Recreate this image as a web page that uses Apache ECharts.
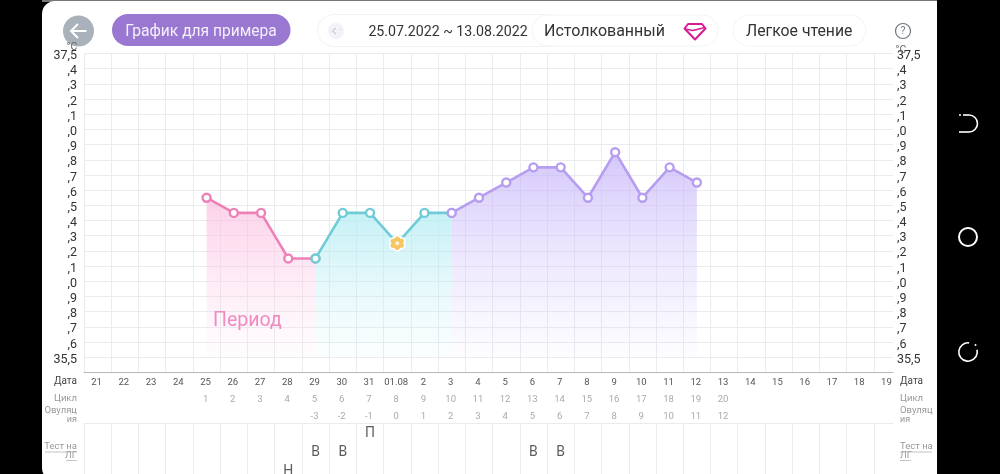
<!DOCTYPE html>
<html><head><meta charset="utf-8">
<style>html,body{margin:0;padding:0;background:#000;overflow:hidden}#c{width:1000px;height:474px}</style>
<script src="https://cdn.jsdelivr.net/npm/echarts@6/dist/echarts.min.js"></script>
</head><body><div id="c"></div>
<script>
const dates = ['21','22','23','24','25','26','27','28','29','30','31','01.08','2','3','4','5','6','7','8','9','10','11','12','13','14','15','16','17','18','19'];
const cycleDays = ['','','','','1','2','3','4','5','6','7','8','9','10','11','12','13','14','15','16','17','18','19','20','','','','','',''];
const ovulationDays = ['','','','','','','','','-3','-2','-1','0','1','2','3','4','5','6','7','8','9','10','11','12','','','','','',''];
const temps = [null,null,null,null,36.55,36.45,36.45,36.15,36.15,36.45,36.45,36.25,36.45,36.45,36.55,36.65,36.75,36.75,36.55,36.85,36.55,36.75,36.65,null,null,null,null,null,null,null];
const lhTests = ['','','','','','','','Н','В','В','П','','','','','','В','В','','','','','','','','','','','',''];
const lhLevels = ['Н','В','П'];
const phaseNames = ['period','follicular','luteal'];
const phaseFirst = [4,8,13];
const phaseLast = [8,13,22];
const ovulationIndex = 11;

const lineColors = ['#ee80b8','#6fcbd5','#b79df0'];
const areaTop = ['rgba(252,190,224,0.72)','rgba(176,236,242,0.72)','rgba(196,178,250,0.72)'];
const areaEnd = ['rgba(252,215,235,0.06)','rgba(200,240,245,0.06)','rgba(220,210,252,0.06)'];
const F = 'Roboto, sans-serif';
const gridC = '#e9ebef';
const flower = 'path://M20 12 A4.2 4.2 0 0 1 16 18.93 A4.2 4.2 0 0 1 8 18.93 A4.2 4.2 0 0 1 4 12 A4.2 4.2 0 0 1 8 5.07 A4.2 4.2 0 0 1 16 5.07 A4.2 4.2 0 0 1 20 12Z';

function pts(a,b){const r=[];for(let i=a;i<=b;i++)r.push({value:[i+0.5,temps[i]]});return r;}
const lineSeries = phaseNames.map((n,k)=>{
  const d = pts(phaseFirst[k],phaseLast[k]);
  d.forEach((p,j)=>{ if(phaseFirst[k]+j===ovulationIndex){
    p.symbol=flower;
    p.symbolSize=15;
    p.itemStyle={color:'#f5c662',borderColor:'#fff',borderWidth:1.5,opacity:1};
  }});
  return {name:n,type:'line',xAxisIndex:0,yAxisIndex:0,data:d,z:3+k,symbol:'circle',symbolSize:8,showAllSymbol:true,
    lineStyle:{color:lineColors[k],width:2.6},
    itemStyle:{color:'#fff',borderColor:lineColors[k],borderWidth:2.4,opacity:1},
    areaStyle:{origin:35.5,opacity:1,color:{type:'linear',x:0,y:0,x2:0,y2:1,colorStops:[{offset:0,color:areaTop[k]},{offset:1,color:areaEnd[k]}]}},
    animation:false,silent:true};
});
lineSeries.push({type:'scatter',xAxisIndex:0,yAxisIndex:0,z:9,symbol:'circle',symbolSize:4,silent:true,animation:false,
  data:[[ovulationIndex+0.5,temps[ovulationIndex]]],itemStyle:{color:'#fff',borderWidth:0}});
lineSeries.push({type:'scatter',xAxisIndex:3,yAxisIndex:2,symbolSize:0,silent:true,animation:false,
  data:lhTests.map((t,i)=>t?[i+0.5,t]:null).filter(Boolean),
  label:{show:true,position:'inside',formatter:p=>p.value[1],fontFamily:F,fontSize:14,color:'#333'}});

const fmtY = v=>{const r=Math.round(v*10)/10; if(r===37.5)return '37,5'; if(r===35.5)return '35,5'; if(r===35.4)return ''; return ','+Math.round((r*10)%10)%10;};
const txt=(x,y,s,o={})=>({type:'text',x,y,z:o.z||20,style:{text:s,fill:o.fill||'#333',font:(o.weight||'400')+' '+(o.size||10)+'px '+F,textAlign:o.align||'left',textVerticalAlign:'middle'}});
const pill=(x,y,w,h,fill,stroke)=>({type:'rect',shape:{x,y,width:w,height:h,r:h/2},z:1,style:{fill,stroke:stroke||null,lineWidth:1}});

const graphic=[
 {type:'rect',z:-10,shape:{x:42,y:0,width:895,height:2},style:{fill:'#777'}},
 {type:'rect',z:-9,shape:{x:42,y:1,width:895,height:480,r:[13,0,0,13]},style:{fill:'#fff'}},
 {type:'circle',z:30,shape:{cx:78.5,cy:31,r:15.5},style:{fill:'#a9b1bb'}},
 {type:'polyline',z:31,shape:{points:[[86.5,31],[71,31]]},style:{stroke:'#fff',lineWidth:2,fill:null}},
 {type:'polyline',z:31,shape:{points:[[78,24],[71,31],[78,38]]},style:{stroke:'#fff',lineWidth:2,fill:null}},
 pill(112,14,178.5,32,'#9a78d1'),
 txt(201,32,'График для примера',{fill:'#f4effb',size:15.6,align:'center'}),
 pill(317.5,14.5,250,32,'#fff','#f0f2f7'),
 {type:'circle',z:2,shape:{cx:336,cy:31,r:8},style:{fill:'#f1f3f8'}},
 {type:'polyline',z:3,shape:{points:[[336,28],[332.5,31],[336,34]]},style:{stroke:'#b4bac6',lineWidth:1,fill:null}},
 txt(339,31,'·',{fill:'#b4bac6',size:9}),
 txt(448,32,'25.07.2022 ~ 13.08.2022',{fill:'#333',size:14.2,align:'center'}),
 {...pill(532,15,186,31,'#fff','#f3f4f8'),z:4},
 txt(544,32,'Истолкованный',{fill:'#333',size:16}),
 {type:'polygon',z:21,shape:{points:[[688,24],[702,24],[705.5,28.5],[695,39.5],[684.5,28.5]]},style:{fill:'#fff',stroke:'#d61c94',lineWidth:2,lineJoin:'round'}},
 {type:'polyline',z:21,shape:{points:[[685,29],[693,30.5],[705,27.5]]},style:{fill:null,stroke:'#d61c94',lineWidth:1.6}},
 {...pill(733,15,133,31,'#fff','#f3f4f8'),z:4},
 txt(746,32,'Легкое чтение',{fill:'#333',size:15.8}),
 {type:'circle',z:21,shape:{cx:903,cy:31,r:7.5},style:{fill:'#fff',stroke:'#6f7680',lineWidth:1.2}},
 txt(903,31.5,'?',{fill:'#6f7680',size:10.5,align:'center',z:22}),
 txt(72,47,'°C',{fill:'#666',size:10.5,align:'center',z:32}),
 txt(901,50,'°C',{fill:'#666',size:10.5,align:'center'}),
 txt(213,321,'Период',{fill:'#ee8cc2',size:19.5}),
 txt(77,381.5,'Дата',{fill:'#444',size:10,align:'right'}),
 txt(77,398.5,'Цикл',{fill:'#999',size:9.5,align:'right'}),
 txt(77,411,'Овуляц',{fill:'#999',size:9.5,align:'right'}),
 txt(77,420,'ия',{fill:'#999',size:9,align:'right'}),
 txt(77,447,'Тест на',{fill:'#999',size:9.5,align:'right'}),
 txt(77,456,'ЛГ',{fill:'#999',size:9.5,align:'right'}),
 {type:'line',z:20,shape:{x1:45,y1:452,x2:77,y2:452},style:{stroke:'#aaa',lineWidth:.7}},
 {type:'line',z:20,shape:{x1:66,y1:460.5,x2:77,y2:460.5},style:{stroke:'#aaa',lineWidth:.7}},
 txt(900,381.5,'Дата',{fill:'#444',size:10}),
 txt(900,398.5,'Цикл',{fill:'#999',size:9.5}),
 txt(900,411,'Овуляц',{fill:'#999',size:9.5}),
 txt(900,420,'ия',{fill:'#999',size:9}),
 txt(900,447,'Тест на',{fill:'#999',size:9.5}),
 txt(900,456,'ЛГ',{fill:'#999',size:9.5}),
 {type:'line',z:20,shape:{x1:900,y1:452,x2:932,y2:452},style:{stroke:'#aaa',lineWidth:.7}},
 {type:'line',z:20,shape:{x1:900,y1:460.5,x2:911,y2:460.5},style:{stroke:'#aaa',lineWidth:.7}},
 // navigation bar icons
 {type:'line',z:20,shape:{x1:963,y1:115,x2:969,y2:115},style:{stroke:'#fff',lineWidth:1.6}},
 {type:'line',z:20,shape:{x1:959,y1:132,x2:969,y2:132},style:{stroke:'#fff',lineWidth:1.6}},
 {type:'arc',z:20,shape:{cx:969,cy:123.5,r:8.5,startAngle:-Math.PI/2,endAngle:Math.PI/2,clockwise:true},style:{fill:null,stroke:'#fff',lineWidth:1.6}},
 {type:'circle',z:20,shape:{cx:960,cy:115,r:1},style:{fill:'#fff'}},
 {type:'circle',z:20,shape:{cx:968,cy:237,r:9},style:{fill:null,stroke:'#fff',lineWidth:2}},
 {type:'arc',z:20,shape:{cx:968,cy:352,r:9.2,startAngle:-Math.PI/2+0.12,endAngle:-0.25,clockwise:false},style:{fill:null,stroke:'#fff',lineWidth:1.6}},
 {type:'circle',z:20,shape:{cx:975.5,cy:345,r:1},style:{fill:'#fff'}}
];

const xVal=(gridIndex,extra={})=>({type:'value',gridIndex,min:0,max:29.7,interval:1,
  axisLabel:{show:false},axisTick:{show:false},axisLine:{show:false},
  splitLine:{show:true,showMaxLine:false,lineStyle:{color:gridC,width:1}},...extra});
const xCat=(data,offset,color)=>({type:'category',gridIndex:1,position:'bottom',offset,data,
  axisTick:{show:false},axisLine:{show:false},splitLine:{show:false},
  axisLabel:{interval:0,margin:0,verticalAlign:'middle',fontFamily:F,fontSize:9.5,color,hideOverlap:false}});
const yLabels=(position,margin)=>({type:'value',gridIndex:3,position,min:35.4,max:37.5,interval:0.1,axisLine:{show:false},axisTick:{show:false},splitLine:{show:false},
  axisLabel:{formatter:fmtY,margin,fontFamily:F,fontSize:12.5,color:'#333',showMinLabel:true,showMaxLabel:true}});

const option={
  backgroundColor:'#000',animation:false,
  grid:[
    {left:84,top:53.5,width:809,height:318.8,outerBoundsMode:'none'},
    {left:83,top:372,width:817,height:1,outerBoundsMode:'none'},
    {left:84,top:423.5,width:809,height:57,outerBoundsMode:'none'},
    {left:84,top:56,width:809,height:318.8,outerBoundsMode:'none'}
  ],
  xAxis:[
    xVal(0,{axisLine:{show:true,onZero:false,lineStyle:{color:'#b5b9be',width:1.2}}}),
    xCat(dates,10,'#555'),
    xCat(cycleDays,27,'#aaa'),
    xVal(2,{position:'top',axisLine:{show:true,onZero:false,lineStyle:{color:gridC,width:1}}}),
    xCat(ovulationDays,44,'#aaa'),
    {type:'value',gridIndex:3,min:0,max:29.7,show:false}
  ],
  yAxis:[
    {type:'value',gridIndex:0,min:35.4,max:37.5,interval:0.1,axisLine:{show:false},axisTick:{show:false},axisLabel:{show:false},
     splitLine:{show:true,lineStyle:{color:gridC,width:1}}},
    {type:'value',gridIndex:1,min:0,max:1,show:false},
    {type:'category',gridIndex:2,data:lhLevels,show:false},
    yLabels('left',7),
    yLabels('right',4)
  ],
  graphic:{elements:graphic},
  series:lineSeries
};
const chart=echarts.init(document.getElementById('c'),null,{renderer:'canvas'});
chart.setOption(option);
</script></body></html>
